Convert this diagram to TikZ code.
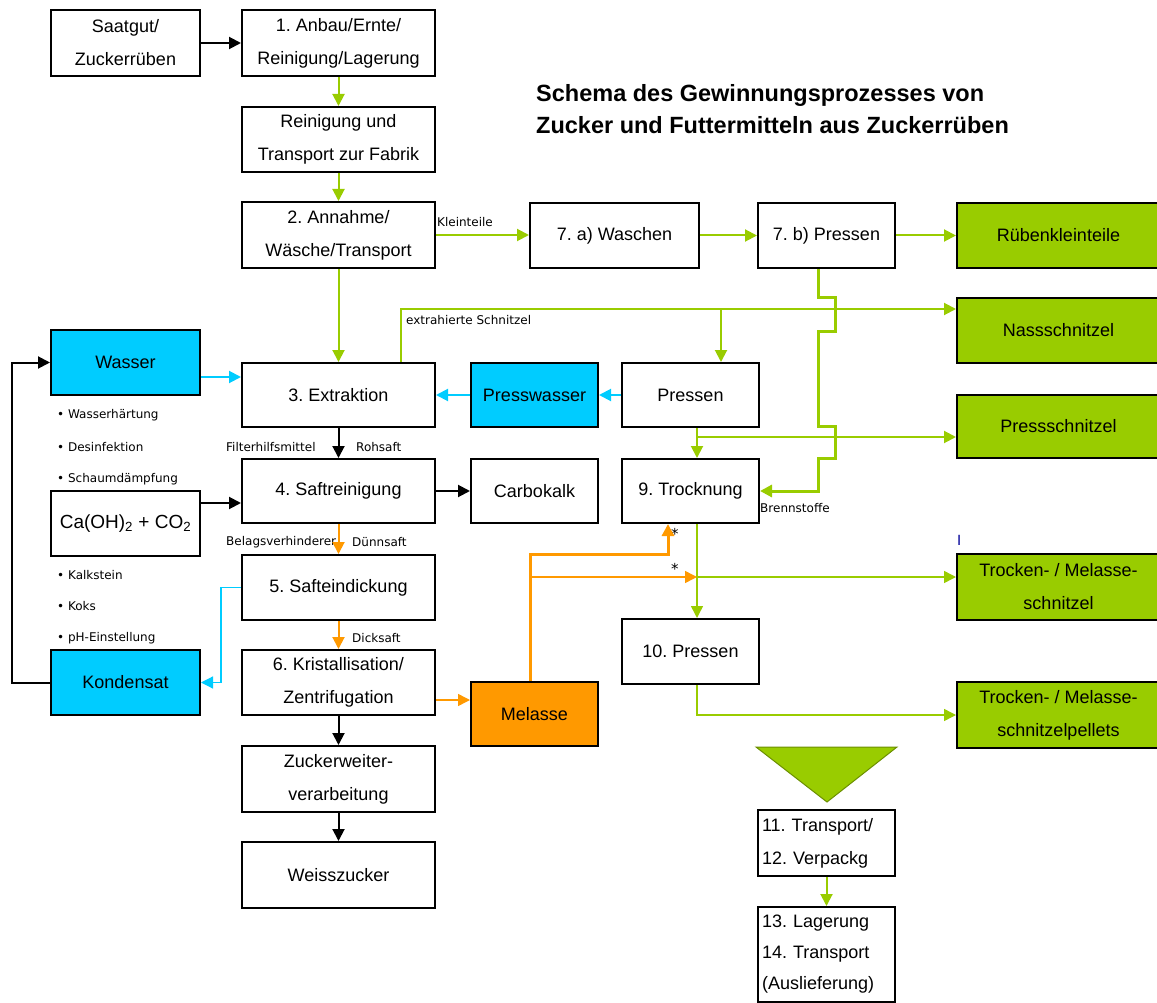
\documentclass[tikz,border=0pt]{standalone}
\usepackage{fontspec}
\setmainfont{Liberation Sans}
\newfontfamily\labelfont{DejaVu Sans}
\usetikzlibrary{arrows.meta}
\frenchspacing

\definecolor{leafgreen}{RGB}{153,204,0}
\definecolor{waterblue}{RGB}{0,204,255}
\definecolor{molorange}{RGB}{255,153,0}

\tikzset{
  proc/.style={draw, line width=2pt, inner sep=0pt, align=center, font=\fontsize{18}{33}\selectfont},
  greenproc/.style={proc, fill=leafgreen},
  blueproc/.style={proc, fill=waterblue},
  orangeproc/.style={proc, fill=molorange},
  lbl/.style={inner sep=0pt, font=\labelfont\fontsize{12}{14}\selectfont},
  flow/.style={line width=2pt, -{Triangle[length=12pt,width=12pt]}},
  blackflow/.style={flow, draw=black},
  greenflow/.style={flow, draw=leafgreen},
  blueflow/.style={flow, draw=waterblue},
  orangeflow/.style={flow, draw=molorange},
}

\begin{document}
\begin{tikzpicture}[x=1pt,y=1pt,yscale=-1,xscale=1]
	\useasboundingbox (0,0) rectangle (1157,1003);

	% Title
	\node [anchor=west, inner sep=0pt, align=left, font=\bfseries\fontsize{23.5}{32}\selectfont] (title) at (536,109) {Schema des Gewinnungsprozesses von\\Zucker und Futtermitteln aus Zuckerrüben};

	% Boxes, left column
	\node [proc, minimum width=149, minimum height=66] (saat) at (125.5,43) {Saatgut/\\Zuckerrüben};
	\node [proc, minimum width=193, minimum height=66] (anbau) at (338.5,43) {1. Anbau/Ernte/\\Reinigung/Lagerung};
	\node [proc, minimum width=193, minimum height=65] (reinig) at (338.5,139.5) {Reinigung und\\Transport zur Fabrik};
	\node [proc, minimum width=193, minimum height=66] (annahme) at (338.5,235) {2. Annahme/\\Wäsche/Transport};
	\node [blueproc, minimum width=149, minimum height=65] (wasser) at (125.5,362.5) {Wasser};
	\node [proc, minimum width=193, minimum height=64] (extrak) at (338.5,395) {3. Extraktion};
	\node [proc, minimum width=193, minimum height=64] (saft) at (338.5,491) {4. Saftreinigung};
	\node [proc, minimum width=149, minimum height=65, font=\fontsize{19}{22}\selectfont] (caoh) at (125.5,523.5) {Ca(OH)\textsubscript{2} + CO\textsubscript{2}};
	\node [proc, minimum width=193, minimum height=65] (eindick) at (338.5,587.5) {5. Safteindickung};
	\node [blueproc, minimum width=149, minimum height=65] (kondensat) at (125.5,682.5) {Kondensat};
	\node [proc, minimum width=193, minimum height=65] (kristall) at (338.5,682.5) {6. Kristallisation/\\Zentrifugation};
	\node [proc, minimum width=193, minimum height=66] (weiter) at (338.5,779) {Zuckerweiter-\\verarbeitung};
	\node [proc, minimum width=193, minimum height=66] (weiss) at (338.5,875) {Weisszucker};

	% Boxes, middle
	\node [proc, minimum width=169, minimum height=65] (waschen) at (614.5,235.5) {7. a) Waschen};
	\node [proc, minimum width=137, minimum height=65] (pressb) at (826.5,235.5) {7. b) Pressen};
	\node [blueproc, minimum width=127, minimum height=64] (presswasser) at (534.5,395) {Presswasser};
	\node [proc, minimum width=137, minimum height=64] (pressen) at (690.5,395) {Pressen};
	\node [proc, minimum width=127, minimum height=64] (carbo) at (534.5,491) {Carbokalk};
	\node [proc, minimum width=137, minimum height=64] (trock) at (690.5,491) {9. Trocknung};
	\node [orangeproc, minimum width=127, minimum height=64] (melasse) at (534.5,714) {Melasse};
	\node [proc, minimum width=137, minimum height=65] (pressen10) at (690.5,651.5) {10. Pressen};

	% Boxes, right column
	\node [greenproc, minimum width=203, minimum height=65] (rueben) at (1058.5,235.5) {Rübenkleinteile};
	\node [greenproc, minimum width=203, minimum height=65] (nass) at (1058.5,330.5) {Nassschnitzel};
	\node [greenproc, minimum width=203, minimum height=63] (presss) at (1058.5,426.5) {Pressschnitzel};
	\node [greenproc, minimum width=203, minimum height=66] (trockschn) at (1058.5,587) {Trocken- / Melasse-\\schnitzel};
	\node [greenproc, minimum width=203, minimum height=66] (pellets) at (1058.5,715) {Trocken- / Melasse-\\schnitzelpellets};

	% Funnel and delivery
	\draw [fill=leafgreen, draw=leafgreen!70!black, line width=1pt] (756,747) -- (897,747) -- (827,802) -- cycle;
	\node [proc, minimum width=137, minimum height=66, align=left, text width=129] (trans) at (826.5,843) {11. Transport/\\12. Verpackg};
	\node [proc, minimum width=137, minimum height=95, align=left, text width=129, font=\fontsize{18}{31}\selectfont] (lager) at (826.5,954.5) {13. Lagerung\\14. Transport\\(Auslieferung)};

	% Text Node
	\node [lbl, anchor=west] (kleinteile) at (437,222) {Kleinteile};
	\node [lbl, anchor=west] (extrahiert) at (406,320) {extrahierte Schnitzel};
	\node [lbl, anchor=west] (filter) at (226,447) {Filterhilfsmittel};
	\node [lbl, anchor=west] (rohsaft) at (356,447) {Rohsaft};
	\node [lbl, anchor=west] (belag) at (226,542) {Belagsverhinderer};
	\node [lbl, anchor=west] (duenn) at (352,542) {Dünnsaft};
	\node [lbl, anchor=west] (dick) at (352,638) {Dicksaft};
	\node [lbl, anchor=west] (brenn) at (760,508) {Brennstoffe};
	\node [lbl, anchor=west, font=\labelfont\fontsize{15}{16}\selectfont] (star1) at (671,534) {*};
	\node [lbl, anchor=west, font=\labelfont\fontsize{15}{16}\selectfont] (star2) at (671,569) {*};
	\node [lbl, anchor=west, text=blue!60!black, font=\labelfont\fontsize{14}{16}\selectfont] (tick) at (957,540) {I};
	% Text Node
	\node [lbl, anchor=west] (b1) at (57,415) {• Wasserhärtung};
	\node [lbl, anchor=west] (b2) at (57,447) {• Desinfektion};
	\node [lbl, anchor=west] (b3) at (57,479) {• Schaumdämpfung};
	\node [lbl, anchor=west] (b4) at (57,575) {• Kalkstein};
	\node [lbl, anchor=west] (b5) at (57,606) {• Koks};
	\node [lbl, anchor=west] (b6) at (57,638) {• pH-Einstellung};

	\coordinate (wy) at (0,377);
	\coordinate (cy) at (0,503);
	\coordinate (ky) at (0,700);
	\coordinate (es) at (401,309);
	\coordinate (esp) at (721,309);
	\coordinate (pj) at (697,437);
	\coordinate (tj) at (697,577);
	\coordinate (pl) at (697,715);
	\coordinate (m1) at (530,554);
	\coordinate (m2) at (530,577);
	\coordinate (bx) at (818,491);

	% Connection
	\draw [blackflow] (saat) -- (anbau);
	\draw [blackflow] (extrak) -- (saft);
	\draw [blackflow] (caoh.east |- cy) -- (saft.west |- cy);
	\draw [blackflow] (saft) -- (carbo);
	\draw [blackflow] (kristall) -- (weiter);
	\draw [blackflow] (weiter) -- (weiss);
	\draw [blackflow] (kondensat.west) -- (12,682.5) -- (12,362.5) -- (wasser.west);
	% Connection
	\draw [greenflow] (anbau) -- (reinig);
	\draw [greenflow] (reinig) -- (annahme);
	\draw [greenflow] (annahme) -- (extrak);
	\draw [greenflow] (annahme.east) -- (annahme.east -| waschen.west);
	\draw [greenflow] (waschen) -- (pressb);
	\draw [greenflow] (pressb) -- (rueben);
	\draw [greenflow] (extrak.north -| es) -- (es) -- (es -| nass.west);
	\draw [greenflow] (esp) -- (esp |- pressen.north);
	\draw [greenflow, line width=3pt] (pressb.south -| bx) -- (818,297) -- (835,297) -- (835,331) -- (818,331) -- (818,426) -- (835,426) -- (835,458) -- (818,458) -- (bx) -- (trock.east);
	\draw [greenflow] (pressen.south -| pj) -- (pj) -- (pj -| presss.west);
	\draw [greenflow] (pj) -- (pj |- trock.north);
	\draw [greenflow, line width=1.5pt] (trock.south -| tj) -- (tj |- pressen10.north);
	\draw [greenflow, line width=1.5pt] (tj) -- (tj -| trockschn.west);
	\draw [greenflow, line width=1.5pt] (pressen10.south -| pl) -- (pl) -- (pellets.west);
	\draw [greenflow] (trans) -- (lager);
	% Connection
	\draw [blueflow] (wasser.east |- wy) -- (extrak.west |- wy);
	\draw [blueflow] (presswasser) -- (extrak);
	\draw [blueflow] (pressen) -- (presswasser);
	\draw [blueflow, line width=1.2pt] (eindick.west) -- (221,587.5) -- (221,682.5) -- (kondensat.east);
	% Connection
	\draw [orangeflow] (saft) -- (eindick);
	\draw [orangeflow] (eindick) -- (kristall);
	\draw [orangeflow, line width=1.5pt] (kristall.east |- ky) -- (melasse.west |- ky);
	\draw [orangeflow, line width=3pt] (melasse.north -| m1) -- (m1) -- (668,554) -- (trock.south -| 668,0);
	\draw [orangeflow, line width=1.5pt] (m2) -- (tj);

\end{tikzpicture}
\end{document}
